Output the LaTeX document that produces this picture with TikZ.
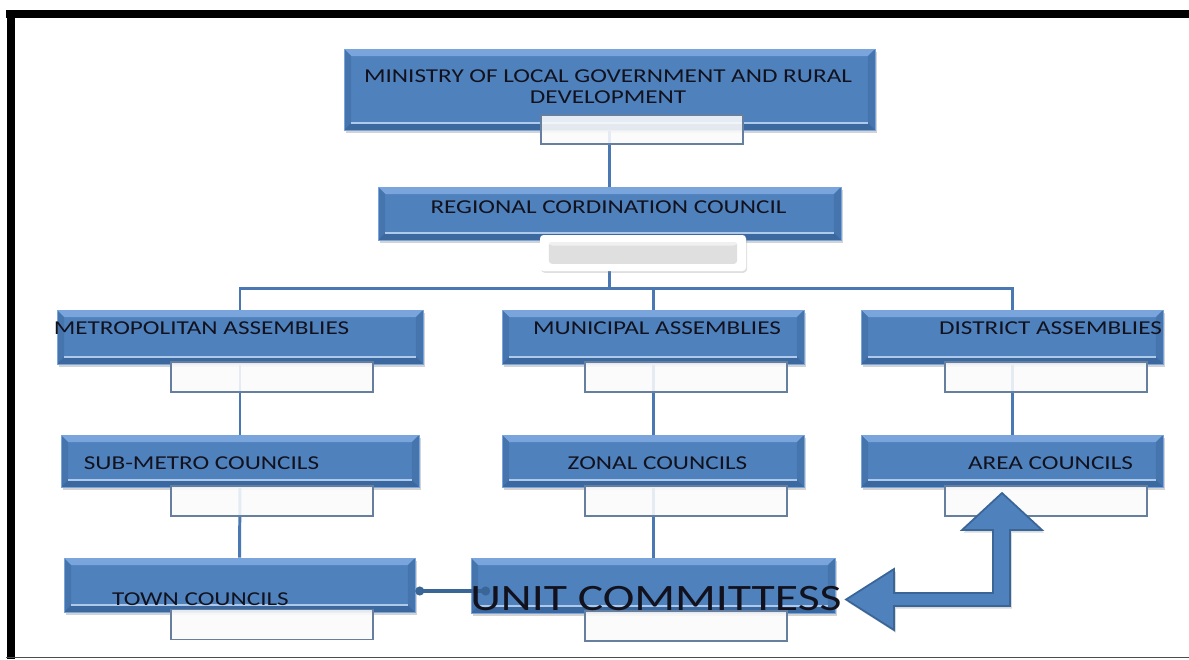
\documentclass[tikz,border=0pt]{standalone}
\usepackage{fontspec}
\setmainfont{Carlito}
\newfontfamily\labfont{Carlito}[FakeStretch=1.28]
\usetikzlibrary{shadows,backgrounds,arrows.meta}
\definecolor{govblue}{HTML}{4F81BD}
\definecolor{govlite}{HTML}{79A5DC}
\definecolor{govside}{HTML}{4674AD}
\definecolor{govdark}{HTML}{3B689E}
\definecolor{govedge}{HTML}{3A6597}
\definecolor{linkblue}{HTML}{4A78B2}
\definecolor{subedge}{HTML}{667F9E}
\definecolor{labink}{HTML}{12121E}
\begin{document}
\begin{tikzpicture}[x=0.02cm,y=-0.02cm,
  govbox/.style 2 args={rectangle,inner sep=0pt,minimum width=#1*0.02cm,minimum height=#2*0.02cm,
    fill=govblue,draw=govlite,line width=0.4pt,
    drop shadow={shadow xshift=1.2pt,shadow yshift=-1.5pt,opacity=.35},
    path picture={
      \coordinate (bnw) at (path picture bounding box.north west);
      \coordinate (bne) at (path picture bounding box.north east);
      \coordinate (bsw) at (path picture bounding box.south west);
      \coordinate (bse) at (path picture bounding box.south east);
      \fill[govlite] (bnw) -- (bne) -- ([shift={(-4pt,-4pt)}]bne) -- ([shift={(4pt,-4pt)}]bnw) -- cycle;
      \fill[govside] (bnw) -- ([shift={(4pt,-4pt)}]bnw) -- ([shift={(4pt,4pt)}]bsw) -- (bsw) -- cycle;
      \fill[govside] (bne) -- ([shift={(-4pt,-4pt)}]bne) -- ([shift={(-4pt,4pt)}]bse) -- (bse) -- cycle;
      \fill[govdark] (bsw) -- (bse) -- ([shift={(-4pt,4pt)}]bse) -- ([shift={(4pt,4pt)}]bsw) -- cycle;
      \draw[govlite!60!white,line width=1pt] ([shift={(4pt,4pt)}]bsw) -- ([shift={(-4pt,4pt)}]bse);
    }},
  subbox/.style={rectangle,inner sep=0pt,minimum width=202*0.02cm,minimum height=30*0.02cm,
    fill=white!97!gray,fill opacity=.88,draw=subedge,line width=0.7pt},
  regbox/.style={rectangle,inner sep=0pt,minimum width=206*0.02cm,minimum height=36*0.02cm,
    fill=white,rounded corners=2pt,drop shadow={shadow xshift=.6pt,shadow yshift=-1pt,opacity=.25},
    path picture={
      \fill[gray!25] ([shift={(5pt,-4pt)}]path picture bounding box.north west) rectangle ([shift={(-5pt,4pt)}]path picture bounding box.south east);
      \fill[gray!12] ([shift={(5pt,-4pt)}]path picture bounding box.north west) rectangle ([shift={(-5pt,-6pt)}]path picture bounding box.north east);
    }},
  lab/.style={inner sep=0pt,text=labink,font=\labfont\fontsize{11.2}{11.9}\selectfont},
  link/.style={draw=linkblue,line width=1.7pt},
]
\useasboundingbox (0,0) rectangle (1189,659);
% frame
\draw[line width=4.5pt] (6,14) -- (1189,14);
\draw[line width=4.5pt] (11,10) -- (11,659);
\draw[black!70,line width=1pt] (6,657.5) -- (1189,657.5);

% boxes
\node[govbox={531}{81}] (ministry) at (609.5,89.5) {};
\node[govbox={463}{53}] (regional) at (609.5,213.5) {};
\node[govbox={366}{54}] (metro) at (240,337) {};
\node[govbox={302}{54}] (municipal) at (653,337) {};
\node[govbox={302}{54}] (district) at (1012,337) {};
\node[govbox={358}{52}] (submetro) at (240,461) {};
\node[govbox={302}{52}] (zonal) at (653,461) {};
\node[govbox={302}{52}] (area) at (1012,461) {};
\node[govbox={351}{54}] (town) at (239.5,585) {};
\node[govbox={364}{55}] (unit) at (653,585.5) {};

\node[subbox,minimum height=29*0.02cm] (ministry-s) at (642,129.5) {};
\node[regbox] (regional-s) at (643,253) {};
\foreach \n/\x/\y in {metro/272/377,municipal/686/377,district/1046/377,
  submetro/272/501,zonal/686/501,area/1046/501,town/272/624.5,unit/686/626}
  \node[subbox] (\n-s) at (\x,\y) {};

% connectors
\begin{scope}[on background layer]
\draw[link] (ministry) -- (regional);
\draw[link] (regional.south) -- ++(0,49);
\draw[link] (metro.north) -- ++(0,-21) -| (district.north);
\draw[link] (municipal.north) -- ++(0,-21);
\foreach \a/\b in {metro/submetro,submetro/town,municipal/zonal,zonal/unit,district/area}
  \draw[link] (\a) -- (\b);
\end{scope}

\coordinate (dbl-end) at (490,591);
\draw[draw=govedge,line width=2.8pt,{Circle[length=5pt]}-{Circle[length=5pt]}] (town.east |- dbl-end) -- (dbl-end);

\filldraw[fill=govblue,draw=govedge,line width=1pt,drop shadow={shadow xshift=1pt,shadow yshift=-1.5pt,opacity=.3}]
  (846,599.5) -- (894,569) -- (894,593) -- (993,593) -- (993,530) -- (962,530) -- (1002,493)
  -- (1042,530) -- (1010,530) -- (1010,606) -- (894,606) -- (894,630) -- cycle;

% texts
\node[lab,align=center] (ministry-t) at (608,86.5) {MINISTRY OF LOCAL GOVERNMENT AND RURAL\\DEVELOPMENT};
\node[lab] (regional-t) at (608.5,207) {REGIONAL CORDINATION COUNCIL};
\node[lab] (metro-t) at (201.5,328) {METROPOLITAN ASSEMBLIES};
\node[lab] (municipal-t) at (657,328) {MUNICIPAL ASSEMBLIES};
\node[lab] (district-t) at (1050.5,328) {DISTRICT ASSEMBLIES};
\node[lab] (submetro-t) at (201.5,463) {SUB-METRO COUNCILS};
\node[lab] (zonal-t) at (657.5,463) {ZONAL COUNCILS};
\node[lab] (area-t) at (1050.5,463) {AREA COUNCILS};
\node[lab] (town-t) at (200.5,599) {TOWN COUNCILS};
\node[lab,font=\labfont\fontsize{21.2}{24}\selectfont] (unit-t) at (656,598.5) {UNIT COMMITTESS};
\end{tikzpicture}
\end{document}
